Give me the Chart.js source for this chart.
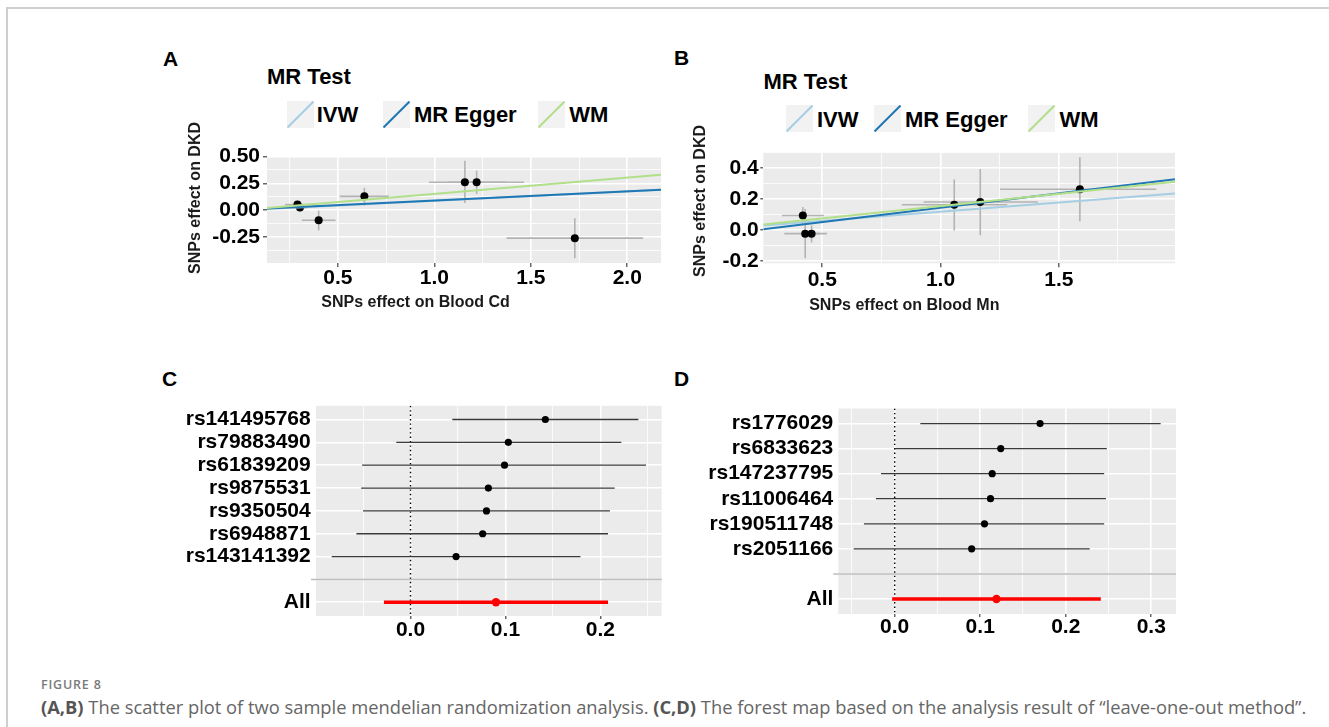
<!DOCTYPE html>
<html>
<head>
<meta charset="utf-8">
<script src="https://cdn.jsdelivr.net/npm/chart.js@4.4.0/dist/chart.umd.min.js"></script>
<style>
  body { margin: 0; width: 1329px; height: 727px; position: relative; background: #fff; overflow: hidden; }
  .frame { position: absolute; left: 6px; top: 7px; width: 1340px; height: 740px; border-left: 2px solid #cfcfcf; border-top: 2px solid #cfcfcf; }
  .box { position: absolute; }
  .t { position: absolute; font-family: "Liberation Sans", Arial, sans-serif; font-weight: bold; line-height: 1; white-space: nowrap; color: #000; }
  .c { transform: translate(-50%, -50%); }
  .l { transform: translate(0, -50%); }
  .rot { transform: translate(-50%, -50%) rotate(-90deg); }
  .key { position: absolute; width: 27px; height: 27px; }
  .cap1 { position: absolute; left: 41px; top: 685px; transform: translate(0, -50%); font-family: "Open Sans", sans-serif; font-weight: 600; font-size: 12.5px; letter-spacing: 0.8px; color: #7a7a7a; white-space: nowrap; line-height: 1; }
  .cap2 { position: absolute; left: 41px; top: 707px; transform: translate(0, -50%); font-family: "Open Sans", sans-serif; font-size: 15px; color: #666; white-space: nowrap; line-height: 1; }
  .cap2 b { font-weight: 700; color: #555; }
</style>
</head>
<body>
<div class="frame"></div>

<div class="box" style="left:200px;top:140px"><canvas id="chartA" width="470" height="165"></canvas></div>
<div class="box" style="left:700px;top:137px"><canvas id="chartB" width="490" height="170"></canvas></div>
<div class="box" style="left:150px;top:390px"><canvas id="chartC" width="520" height="255"></canvas></div>
<div class="box" style="left:660px;top:393px"><canvas id="chartD" width="530" height="255"></canvas></div>

<!-- panel letters -->
<div class="t c" style="left:170.5px;top:57.5px;font-size:21px">A</div>
<div class="t c" style="left:681.5px;top:57px;font-size:21px">B</div>
<div class="t c" style="left:169.5px;top:377.5px;font-size:21px">C</div>
<div class="t c" style="left:681.5px;top:377.5px;font-size:21px">D</div>

<!-- legends -->
<div class="t l" style="left:267px;top:76.7px;font-size:22px">MR Test</div>
<div id="legA"></div>
<div class="t l" style="left:763.4px;top:81.7px;font-size:22px">MR Test</div>
<div id="legB"></div>

<!-- axis titles -->
<div class="t rot" style="left:194.5px;top:198.3px;font-size:16px;color:#1a1a1a">SNPs effect on DKD</div>
<div class="t c" style="left:415.5px;top:301.7px;font-size:16px;color:#1a1a1a">SNPs effect on Blood Cd</div>
<div class="t rot" style="left:700.4px;top:200.8px;font-size:16px;color:#1a1a1a">SNPs effect on DKD</div>
<div class="t c" style="left:904.3px;top:305px;font-size:16px;color:#1a1a1a">SNPs effect on Blood Mn</div>

<div class="cap1">FIGURE 8</div>
<div class="cap2" id="cap"><b>(A,B)</b> The scatter plot of two sample mendelian randomization analysis. <b>(C,D)</b> The forest map based on the analysis result of “leave-one-out method”.</div>

<script>
// ---- A: SNP effects on Blood Cd vs DKD ----
const cdX   = [0.290, 0.303, 0.400, 0.637, 1.158, 1.219, 1.728];
const cdY   = [0.052, 0.024, -0.093, 0.129, 0.260, 0.260, -0.260];
const cdXLo = [0.225, 0.270, 0.313, 0.509, 0.972, 1.070, 1.374];
const cdXHi = [0.367, 0.336, 0.487, 0.764, 1.464, 1.370, 2.082];
const cdYLo = [0.035, 0.005, -0.187, 0.042, 0.066, 0.151, -0.446];
const cdYHi = [0.069, 0.043, -0.003, 0.208, 0.459, 0.368, -0.075];
const cdSlope = [0.087, 0.086, 0.152];  // IVW, MR Egger, WM
const cdIcpt  = [0, 0.004, 0];
const cdXTicks = [0.5, 1.0, 1.5, 2.0];
const cdYTicks = [-0.25, 0, 0.25, 0.5];

// ---- B: SNP effects on Blood Mn vs DKD ----
const mnX   = [0.418, 0.428, 0.455, 1.058, 1.168, 1.589];
const mnY   = [0.094, -0.023, -0.023, 0.164, 0.181, 0.264];
const mnXLo = [0.330, 0.340, 0.420, 0.836, 0.929, 1.252];
const mnXHi = [0.507, 0.520, 0.490, 1.282, 1.412, 1.912];
const mnYLo = [0.040, -0.182, -0.080, -0.002, -0.034, 0.057];
const mnYHi = [0.149, 0.136, 0.030, 0.327, 0.395, 0.470];
const mnSlope = [0.119, 0.186, 0.158];
const mnIcpt  = [0, -0.042, -0.003];
const mnXTicks = [0.5, 1.0, 1.5];
const mnYTicks = [-0.2, 0, 0.2, 0.4];

const methods = ['IVW', 'MR Egger', 'WM'];
const methodColors = ['#a6cee3', '#1f78b4', '#b2df8a'];

// ---- C: leave-one-out, Blood Cd ----
const cdLooSnps = ['rs141495768', 'rs79883490', 'rs61839209', 'rs9875531', 'rs9350504', 'rs6948871', 'rs143141392'];
const cdLooEst  = [0.142, 0.103, 0.099, 0.082, 0.080, 0.076, 0.048];
const cdLooLo   = [0.044, -0.015, -0.051, -0.052, -0.050, -0.057, -0.083];
const cdLooHi   = [0.240, 0.222, 0.248, 0.215, 0.210, 0.208, 0.179];
const cdAll     = [0.090, -0.028, 0.208];   // estimate, low, high
const cdLooTicks = [0, 0.1, 0.2];

// ---- D: leave-one-out, Blood Mn ----
const mnLooSnps = ['rs1776029', 'rs6833623', 'rs147237795', 'rs11006464', 'rs190511748', 'rs2051166'];
const mnLooEst  = [0.170, 0.124, 0.114, 0.112, 0.105, 0.090];
const mnLooLo   = [0.030, 0.000, -0.016, -0.022, -0.036, -0.048];
const mnLooHi   = [0.311, 0.248, 0.245, 0.247, 0.245, 0.228];
const mnAll     = [0.119, -0.003, 0.241];
const mnLooTicks = [0, 0.1, 0.2, 0.3];

const FAMILY = '"Liberation Sans", Arial, sans-serif';

// grey panel behind the grid, like ggplot
Chart.register({
  id: 'panelBg',
  beforeDraw(chart) {
    const a = chart.chartArea, ctx = chart.ctx;
    ctx.save();
    ctx.fillStyle = '#ebebeb';
    ctx.fillRect(a.left, a.top, a.right - a.left, a.bottom - a.top);
    ctx.restore();
  }
});

// ggplot default expansion of 5%
function expand(lo, hi) {
  const d = (hi - lo) * 0.05;
  return [lo - d, hi + d];
}

// major + minor grid positions inside the range
function gridValues(range, majors) {
  const half = (majors[1] - majors[0]) / 2;
  const out = [];
  for (let k = -10; k <= 2 * majors.length + 10; k++) {
    const v = Math.round((majors[0] + k * half) * 1e6) / 1e6;
    if (v >= range[0] && v <= range[1]) out.push({ value: v, isMajor: k % 2 === 0 });
  }
  return out;
}

function linAxis(range, majors, fmt, size, isX, tl, pad) {
  const ticks = gridValues(range, majors);
  return {
    type: 'linear', min: range[0], max: range[1], bounds: 'data',
    afterBuildTicks: s => { s.ticks = ticks.map(t => ({ value: t.value, isMajor: t.isMajor })); },
    afterFit: s => { if (isX) s.height = size; else s.width = size; },
    border: { display: false },
    grid: {
      color: '#ffffff',
      lineWidth: c => (c.tick && c.tick.isMajor) ? 1.6 : 0.8,
      tickColor: c => (c.tick && c.tick.isMajor) ? '#333333' : 'rgba(0,0,0,0)',
      tickLength: tl, tickWidth: 1.1
    },
    ticks: {
      autoSkip: false, maxRotation: 0, padding: pad, color: '#000',
      font: { family: FAMILY, size: 21, weight: 'bold', lineHeight: 1 },
      callback: (v, i, t) => t[i].isMajor ? fmt(v) : ''
    }
  };
}

function seg(points, color, width, order, dash) {
  return {
    data: points, showLine: true, borderColor: color, borderWidth: width,
    borderDash: dash || [], pointRadius: 0, order: order
  };
}

function baseOptions(padding, scales, extra) {
  return {
    responsive: false, animation: false, events: [],
    layout: { padding: padding },
    plugins: Object.assign({ legend: { display: false }, tooltip: { enabled: false } }, extra || {}),
    scales: scales
  };
}

function mrScatter(id, d, lay) {
  const xr = expand(Math.min(...d.xLo), Math.max(...d.xHi));
  const yr = expand(Math.min(...d.yLo), Math.max(...d.yHi));
  const datasets = [];
  d.x.forEach((x, i) => {
    datasets.push(seg([{ x: d.xLo[i], y: d.y[i] }, { x: d.xHi[i], y: d.y[i] }], '#b3b3b3', 1.6, 10));
    datasets.push(seg([{ x: x, y: d.yLo[i] }, { x: x, y: d.yHi[i] }], '#b3b3b3', 1.6, 10));
  });
  datasets.push({
    data: d.x.map((x, i) => ({ x: x, y: d.y[i] })),
    pointRadius: 4, backgroundColor: '#000', borderWidth: 0, order: 5
  });
  methods.forEach((m, j) => {
    datasets.push(seg([xr[0], xr[1]].map(x => ({ x: x, y: d.icpt[j] + d.slope[j] * x })),
      methodColors[j], 2, 2 - j));
  });
  new Chart(document.getElementById(id), {
    type: 'scatter',
    data: { datasets: datasets },
    options: baseOptions(lay.padding, {
      x: linAxis(xr, d.xTicks, v => v.toFixed(1), lay.xH, true, lay.xTl, lay.xPad),
      y: linAxis(yr, d.yTicks, v => v.toFixed(d.yDec), lay.yW, false, lay.yTl, lay.yPad)
    })
  });
}

// separator line over the empty row of a forest plot
const sepLine = {
  id: 'sepLine',
  beforeDatasetsDraw(chart, args, opts) {
    const y = chart.scales.y.getPixelForValue(opts.row);
    const ctx = chart.ctx, a = chart.chartArea;
    ctx.save();
    ctx.strokeStyle = '#bdbdbd';
    ctx.lineWidth = 1.5;
    ctx.beginPath();
    ctx.moveTo(a.left - 5, y);
    ctx.lineTo(a.right, y);
    ctx.stroke();
    ctx.restore();
  }
};

function forest(id, snps, est, lo, hi, all, xTicks, lay) {
  const rows = snps.concat(['', 'All']);
  const blank = snps.length, allRow = snps.length + 1;
  const xr = expand(Math.min(...lo, all[1]), Math.max(...hi, all[2]));
  const yr = [-0.6, rows.length - 1 + 0.6];
  const datasets = [];
  datasets.push(seg([{ x: 0, y: yr[0] }, { x: 0, y: yr[1] }], '#000', 1.4, 20, [1.4, 3]));
  snps.forEach((s, i) => {
    datasets.push(seg([{ x: lo[i], y: i }, { x: hi[i], y: i }], '#3a3a3a', 1.3, 10));
  });
  datasets.push({
    data: est.map((v, i) => ({ x: v, y: i })),
    pointRadius: 3.6, backgroundColor: '#000', borderWidth: 0, order: 5
  });
  datasets.push(seg([{ x: all[1], y: allRow }, { x: all[2], y: allRow }], '#ff0000', 3.4, 4));
  datasets.push({
    data: [{ x: all[0], y: allRow }],
    pointRadius: 4.2, backgroundColor: '#ff0000', borderWidth: 0, order: 0
  });
  new Chart(document.getElementById(id), {
    type: 'scatter',
    data: { datasets: datasets },
    plugins: [sepLine],
    options: baseOptions(lay.padding, {
      x: linAxis(xr, xTicks, v => v.toFixed(1), lay.xH, true, lay.xTl, lay.xPad),
      y: {
        type: 'linear', reverse: true, min: yr[0], max: yr[1], bounds: 'data',
        afterBuildTicks: s => { s.ticks = rows.map((r, i) => ({ value: i })); },
        afterFit: s => { s.width = lay.yW; },
        border: { display: false },
        grid: { color: '#ffffff', lineWidth: 1.6, drawTicks: false },
        ticks: {
          autoSkip: false, padding: lay.yPad, color: '#000',
          font: { family: FAMILY, size: 21, weight: 'bold', lineHeight: 1 },
          callback: (v) => rows[v]
        }
      }
    }, { sepLine: { row: blank } })
  });
}

mrScatter('chartA', {
  x: cdX, y: cdY, xLo: cdXLo, xHi: cdXHi, yLo: cdYLo, yHi: cdYHi,
  slope: cdSlope, icpt: cdIcpt, xTicks: cdXTicks, yTicks: cdYTicks, yDec: 2
}, { padding: { left: 0, top: 16, right: 9, bottom: 0 }, yW: 67, xH: 42, xTl: 4, xPad: 1, yTl: 4, yPad: 3 });

mrScatter('chartB', {
  x: mnX, y: mnY, xLo: mnXLo, xHi: mnXHi, yLo: mnYLo, yHi: mnYHi,
  slope: mnSlope, icpt: mnIcpt, xTicks: mnXTicks, yTicks: mnYTicks, yDec: 1
}, { padding: { left: 0, top: 15.3, right: 15, bottom: 0 }, yW: 63.3, xH: 43.7, xTl: 4, xPad: 2.2, yTl: 3, yPad: 1.6 });

forest('chartC', cdLooSnps, cdLooEst, cdLooLo, cdLooHi, cdAll, cdLooTicks,
  { padding: { left: 0, top: 15, right: 8.3, bottom: 0 }, yW: 166, xH: 29, xTl: 3, xPad: 0.5, yPad: 5.3 });

forest('chartD', mnLooSnps, mnLooEst, mnLooLo, mnLooHi, mnAll, mnLooTicks,
  { padding: { left: 0, top: 15.3, right: 14, bottom: 0 }, yW: 178.3, xH: 34, xTl: 3, xPad: 0, yPad: 5 });

// legends with ggplot style keys
function legend(holder, keyLefts, textLefts, keyTop, textTop) {
  const el = document.getElementById(holder);
  methods.forEach((m, j) => {
    const k = document.createElement('div');
    k.className = 'key';
    k.style.left = keyLefts[j] + 'px';
    k.style.top = keyTop + 'px';
    k.innerHTML = '<svg width="27" height="27"><rect width="27" height="27" fill="#f2f2f2"/>' +
      '<line x1="0.5" y1="26.5" x2="26.5" y2="0.5" stroke="' + methodColors[j] + '" stroke-width="2"/></svg>';
    el.appendChild(k);
    const t = document.createElement('div');
    t.className = 't l';
    t.style.left = textLefts[j] + 'px';
    t.style.top = textTop + 'px';
    t.style.fontSize = '22px';
    t.textContent = m;
    el.appendChild(t);
  });
}
legend('legA', [287, 383.3, 538.3], [316.7, 414, 569.3], 101, 114.5);
legend('legB', [785.6, 874.3, 1028], [816.9, 905, 1059.5], 105, 119.5);

// stretch caption to the width it has in the figure
const cap = document.getElementById('cap');
const w = cap.getBoundingClientRect().width;
cap.style.fontSize = (15 * 1266 / w) + 'px';
</script>
</body>
</html>
